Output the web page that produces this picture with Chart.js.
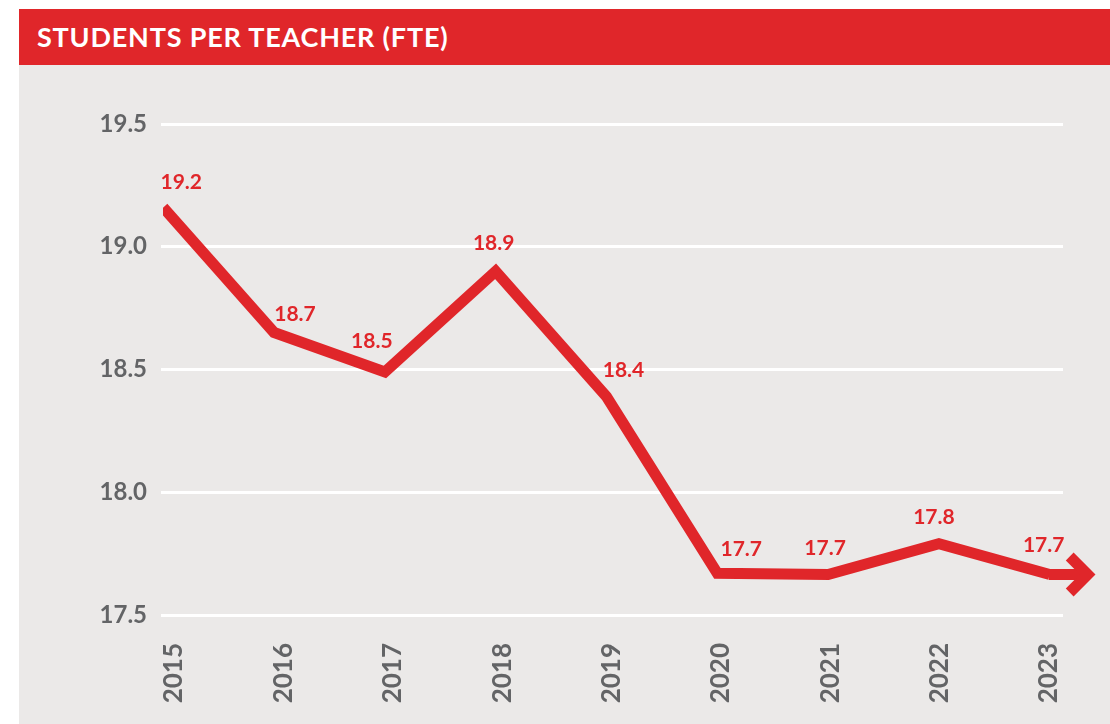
<!DOCTYPE html>
<html>
<head>
<meta charset="utf-8">
<script src="https://cdn.jsdelivr.net/npm/chart.js@4.4.1/dist/chart.umd.min.js"></script>
<style>
  body { margin: 0; background: #ffffff; }
  #wrap { position: relative; width: 1110px; height: 724px; overflow: hidden; }
  #header {
    position: absolute; left: 19px; top: 9px; width: 1091px; height: 56px;
    background: #e0262a; color: #ffffff;
    font-family: Lato, "Open Sans", sans-serif; font-weight: bold; font-size: 27px;
    line-height: 56px; padding-left: 18px; box-sizing: border-box; letter-spacing: 0.8px;
  }
  #panel { position: absolute; left: 19px; top: 65px; width: 1091px; height: 659px; background: #ebe9e8; }
  #chart { position: absolute; left: 0; top: 0; }
</style>
</head>
<body>
<div id="wrap">
  <div id="header">STUDENTS PER TEACHER (FTE)</div>
  <div id="panel"></div>
  <canvas id="chart" width="1110" height="724"></canvas>
</div>
<script>
// dados do gráfico
const anos = ['2015', '2016', '2017', '2018', '2019', '2020', '2021', '2022', '2023'];
const alunosPorProfessor = [19.16, 18.651, 18.49, 18.90, 18.39, 17.67, 17.665, 17.79, 17.665];
const ticksY = [17.5, 18.0, 18.5, 19.0, 19.5];

// deslocamento dos rótulos em relação ao ponto (x, altura acima)
const rotuloDx = [18, 21, -13, -2, 17, 24, -3, -5, -6];
const rotuloDy = [18, 11, 24, 21, 20, 17, 19, 20, 22];

const vermelho = '#e0262a';
const cinza = '#636466';
const fonte = 'Lato, "Open Sans", sans-serif';

// rótulos de valor + seta no final da linha
const rotulosPlugin = {
  id: 'rotulos',
  afterDatasetsDraw(chart) {
    const ctx = chart.ctx;
    const pts = chart.getDatasetMeta(0).data;
    ctx.save();
    // seta
    const ult = pts[pts.length - 1];
    const tip = ult.x + 38;
    ctx.strokeStyle = vermelho;
    ctx.lineWidth = 11;
    ctx.lineJoin = 'miter';
    ctx.lineCap = 'butt';
    ctx.beginPath();
    ctx.moveTo(ult.x - 1, ult.y);
    ctx.lineTo(tip, ult.y);
    ctx.stroke();
    ctx.beginPath();
    ctx.moveTo(tip - 18, ult.y - 18);
    ctx.lineTo(tip, ult.y);
    ctx.lineTo(tip - 18, ult.y + 18);
    ctx.stroke();
    // valores
    ctx.fillStyle = vermelho;
    ctx.font = 'bold 21px ' + fonte;
    ctx.textAlign = 'center';
    ctx.textBaseline = 'alphabetic';
    pts.forEach(function(p, i) {
      ctx.fillText(alunosPorProfessor[i].toFixed(1), p.x + rotuloDx[i], p.y - rotuloDy[i]);
    });
    ctx.restore();
  }
};

new Chart(document.getElementById('chart'), {
  type: 'line',
  data: {
    datasets: [{
      data: alunosPorProfessor.map((v, i) => ({ x: i, y: v })),
      borderColor: vermelho,
      borderWidth: 11,
      borderJoinStyle: 'miter',
      borderCapStyle: 'butt',
      pointRadius: 0,
      tension: 0,
      fill: false,
      clip: { left: -2, top: false, right: false, bottom: false }
    }]
  },
  options: {
    responsive: false,
    animation: false,
    devicePixelRatio: 1,
    layout: { padding: { left: 0, top: 124, right: 47, bottom: 0 } },
    plugins: { legend: { display: false }, tooltip: { enabled: false } },
    scales: {
      x: {
        type: 'linear',
        display: false,
        min: -0.02,
        max: 8.12
      },
      // eixo só para os anos (levemente deslocado como no original)
      anosEixo: {
        type: 'linear',
        axis: 'x',
        position: 'bottom',
        min: -0.119,
        max: 8.128,
        afterFit(scale) { scale.height = 109; },
        afterBuildTicks(scale) { scale.ticks = anos.map((a, i) => ({ value: i })); },
        grid: { display: false },
        border: { display: false },
        ticks: {
          includeBounds: false,
          minRotation: 90,
          maxRotation: 90,
          padding: 20,
          color: cinza,
          font: { family: fonte, weight: 'bold', size: 26 },
          callback: (v) => anos[v]
        }
      },
      y: {
        min: 17.5,
        max: 19.5,
        afterFit(scale) { scale.width = 161; },
        afterBuildTicks(scale) { scale.ticks = ticksY.map(v => ({ value: v })); },
        grid: { color: '#ffffff', lineWidth: 3, drawTicks: false },
        border: { display: false },
        ticks: {
          padding: 14,
          color: cinza,
          font: { family: fonte, weight: 'bold', size: 24 },
          callback: (v) => v.toFixed(1)
        }
      }
    }
  },
  plugins: [rotulosPlugin]
});
</script>
</body>
</html>
